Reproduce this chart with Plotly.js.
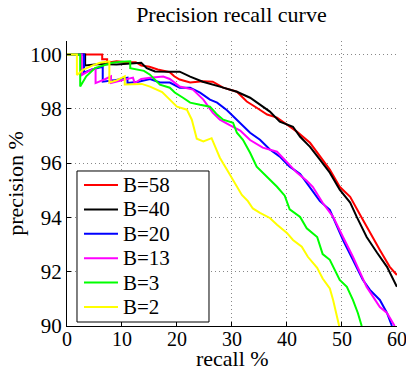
<!DOCTYPE html>
<html>
<head>
<meta charset="utf-8">
<script src="https://cdn.plot.ly/plotly-3.0.1.min.js"></script>
<style>html,body{margin:0;padding:0;background:#fff;}#chart{width:406px;height:376px;}</style>
</head>
<body>
<div id="chart"></div>
<script>
// Series labels and colours
var names = ["B=58", "B=40", "B=20", "B=13", "B=3", "B=2"];
var colors = ["#ff0000", "#000000", "#0000ff", "#ff00ff", "#00ff00", "#ffff00"];

// recall (%) and precision (%)
var r58 = [0,6.4,6.4,7.3,7.3,9,11,12.5,13.5,15,16.5,18.7,19.5,20.5,22.4,24.7,26.5,28.4,30.9,32.7,34.5,36.4,38.2,40,41.8,44.2,46,47.8,49.6,51.5,53.3,55.1,56.9,58.7,60];
var p58 = [100,100,99.83,99.83,99.7,99.75,99.72,99.72,99.6,99.55,99.45,99.35,99.2,99.08,98.97,99.02,99.0,98.78,98.63,98.27,98.04,97.79,97.68,97.42,97.16,96.75,96.24,95.76,95.13,94.76,94.1,93.43,92.8,92.18,91.88];

var r40 = [0,3.3,3.3,6,9,12,13.5,14.5,16,18.7,20.5,22.4,24.7,27.8,30.9,33.3,35.1,36.9,38.7,40.2,41.1,42.4,44.2,46,47.8,49.6,51.5,52.7,54.5,56.4,58.2,60];
var p40 = [100,100,99.6,99.65,99.63,99.68,99.7,99.5,99.38,99.37,99.37,99.19,99.0,98.82,98.63,98.41,98.15,97.9,97.53,97.42,97.34,96.97,96.6,96.13,95.65,95.02,94.55,94.02,93.28,92.7,92.18,91.44];

var r20 = [0,3.1,3.1,4.5,6.5,6.5,8.5,10,11,11,13,15.1,16.9,18.7,20.5,22.4,24.2,26,27.3,29.1,30.9,33.3,35.1,36.9,38.7,40.5,42.4,44.2,46,47.8,49.1,50.2,52,53.8,55.1,56.9,58.2,59.1];
var p20 = [100,100,99.33,99.45,99.55,99.0,99.05,99.1,99.15,98.95,99.0,99.1,98.97,98.97,98.78,98.78,98.6,98.34,98.23,97.95,97.6,97.12,96.86,96.5,96.24,95.87,95.6,95.08,94.6,94.28,93.65,93.17,92.44,91.7,91.33,90.96,90.48,90.0];

var r13 = [0,2.7,2.7,4,5.2,5.2,7,8,8,10,12,12.3,13.5,15.1,17.5,18.7,20.5,22.9,24.8,26.5,27.8,29.6,31.5,33.3,35.6,38.2,40,41.8,43.6,44.7,46.5,48.4,50.2,52,54.5,56.9,58.2,59.6];
var p13 = [100,100,99.25,99.4,99.5,98.95,99.1,99.2,98.95,99.05,99.15,98.95,99.1,99.15,99.19,99.1,98.82,98.71,98.34,97.86,97.6,97.4,97.2,96.85,96.57,96.42,96.05,95.65,95.35,95.13,94.54,94.02,93.28,92.55,91.44,90.7,90.48,90.0];

var r3 = [0,2.4,2.4,3.5,5.1,8.2,10,11.5,11.5,13,14,15.1,16.9,18.7,19.6,21.1,22.4,24.2,26,27.3,28.4,30.2,30.9,32,33.3,34.5,36.4,38.2,39.6,40.5,42.4,43.6,45.5,46.5,47.8,49.6,50.9,52,52.9,53.6];
var p3 = [100,100,98.82,99.2,99.5,99.7,99.74,99.75,99.5,99.45,99.4,99.26,98.89,98.78,98.6,98.41,98.23,98.15,98.08,97.79,97.6,97.49,97.12,96.86,96.38,95.87,95.5,95.13,94.8,94.3,94.02,93.6,93.28,92.65,92.44,91.7,91.44,90.96,90.48,90.0];

var r2 = [0,1.8,1.8,3,4.7,6,7.7,7.7,9,10,10.5,10.5,12,13.6,15.1,17.3,18.7,20,21.8,22.7,23.6,24.8,26.3,27.2,27.8,29.1,30.5,31.8,32.9,33.8,35.1,36.9,38.2,40,41.1,42.7,43.8,44.7,45.5,46.5,47.8,48.4,49.1,49.5];
var p2 = [100,100,99.25,99.45,99.6,99.7,99.75,98.97,99.05,99.15,99.2,98.9,98.9,98.92,98.82,98.62,98.34,98.08,97.97,97.6,96.9,96.8,96.92,96.5,96.2,95.76,95.28,94.83,94.6,94.33,94.17,93.98,93.73,93.43,93.17,92.92,92.55,92.32,92.14,91.75,91.38,90.96,90.33,90.0];

var xTicks = [0,10,20,30,40,50,60];
var yTicks = [90,92,94,96,98,100];

var xs = [r58, r40, r20, r13, r3, r2];
var ys = [p58, p40, p20, p13, p3, p2];

var FONT = "Liberation Serif, Times New Roman, serif";

var traces = names.map(function(n, i) {
  return {
    x: xs[i], y: ys[i], name: n, type: "scatter", mode: "lines",
    line: {color: colors[i], width: 2}, showlegend: false
  };
});

// Legend box drawn in paper coordinates (MATLAB-style legend)
var shapes = [{
  type: "rect", xref: "paper", yref: "paper",
  x0: 0.0303, x1: 0.4303, y0: 0.014, y1: 0.5439,
  line: {color: "#000", width: 1}, fillcolor: "#fff", layer: "above"
}];
var annotations = [];
var rowTop = 0.4947, rowStep = 0.0856;
names.forEach(function(n, i) {
  var yy = rowTop - i * rowStep;
  shapes.push({type: "line", xref: "paper", yref: "paper",
    x0: 0.0515, x1: 0.1545, y0: yy, y1: yy,
    line: {color: colors[i], width: 2}, layer: "above"});
  annotations.push({xref: "paper", yref: "paper", x: 0.163, y: yy,
    xanchor: "left", yanchor: "middle", showarrow: false, text: n,
    font: {family: FONT, size: 21, color: "#000"}});
});
// x-axis title placed close under the tick labels, as in the reference
annotations.push({xref: "paper", yref: "paper", x: 0.5, y: -0.114,
  xanchor: "center", yanchor: "middle", showarrow: false, text: "recall %",
  font: {family: FONT, size: 22, color: "#000"}});

var layout = {
  width: 406, height: 376,
  margin: {l: 67, r: 9, t: 41, b: 50},
  paper_bgcolor: "#fff", plot_bgcolor: "#fff",
  font: {family: FONT, color: "#000"},
  title: {text: "Precision recall curve", font: {family: FONT, size: 22, color: "#000"},
          x: 0.57, xanchor: "center", y: 0.962, yanchor: "middle"},
  xaxis: {
    range: [0, 60.02], tickvals: xTicks, ticktext: xTicks.map(String),
    showline: true, linecolor: "#000", linewidth: 1, mirror: false,
    ticks: "inside", ticklen: 4, tickcolor: "#000",
    showgrid: true, gridcolor: "#888", griddash: "1px,3px", gridwidth: 1,
    zeroline: false, ticklabeloverflow: "allow", ticklabelstandoff: -5,
    tickfont: {family: FONT, size: 20, color: "#000"}
  },
  yaxis: {
    range: [90, 100.5], tickvals: yTicks, ticktext: yTicks.map(String),
    showline: true, linecolor: "#000", linewidth: 1, mirror: false,
    ticks: "inside", ticklen: 4, tickcolor: "#000",
    showgrid: true, gridcolor: "#888", griddash: "1px,3px", gridwidth: 1,
    zeroline: false,
    tickfont: {family: FONT, size: 21, color: "#000"},
    title: {text: "precision %", font: {family: FONT, size: 22, color: "#000"}, standoff: 0}
  },
  shapes: shapes,
  annotations: annotations,
  showlegend: false
};

Plotly.newPlot("chart", traces, layout, {displayModeBar: false, staticPlot: true});
</script>
</body>
</html>
